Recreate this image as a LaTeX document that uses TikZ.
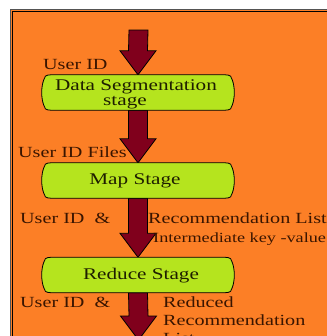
\documentclass[tikz,border=0pt]{standalone}
\usepackage{fontspec}
\setmainfont{Liberation Serif}[FakeStretch=1.3]
\usetikzlibrary{calc}

\definecolor{panel}{HTML}{FC7F26}
\definecolor{flowred}{HTML}{80001C}
\definecolor{stagegreen}{HTML}{B5E41E}
\definecolor{labelbrown}{HTML}{3A1500}
\definecolor{stageink}{HTML}{1E1E00}

% block arrow from the middle of a top edge (#1) down to a tip (#2)
\newcommand\flowarrow[2]{%
  \draw[flowline]
    ($(#1)+(-9.5,0)$) -- ($(#2)+(-9.5,-24)$) -- ($(#2)+(-18,-24)$) -- (#2)
    -- ($(#2)+(18,-24)$) -- ($(#2)+(9.5,-24)$) -- ($(#1)+(9.5,0)$) -- cycle;}

% rounded stage outline with slightly bulging sides
\newcommand\stageoutline[1]{%
  \draw[stageline] let \p1=(#1.north west), \p2=(#1.south east) in
    (\x1+8bp,\y1) -- (\x2-8bp,\y1)
    .. controls (\x2-3bp,\y1) and (\x2-1bp,\y1-2bp) .. (\x2-1bp,\y1-5bp)
    .. controls (\x2+1.8bp,\y1-12bp) and (\x2+1.8bp,\y2+12bp) .. (\x2-1bp,\y2+5bp)
    .. controls (\x2-1bp,\y2+2bp) and (\x2-3bp,\y2) .. (\x2-8bp,\y2)
    -- (\x1+8bp,\y2)
    .. controls (\x1+3bp,\y2) and (\x1+1bp,\y2+2bp) .. (\x1+1bp,\y2+5bp)
    .. controls (\x1-1.8bp,\y2+12bp) and (\x1-1.8bp,\y1-12bp) .. (\x1+1bp,\y1-5bp)
    .. controls (\x1+1bp,\y1-2bp) and (\x1+3bp,\y1) .. cycle;}

\tikzset{
  stagebox/.style={inner sep=0pt, minimum width=190bp, minimum height=35bp},
  stageline/.style={draw=black, line width=0.8bp, fill=stagegreen},
  flowline/.style={draw=black, line width=0.8bp, fill=flowred, line join=miter},
  stagetext/.style={inner sep=0pt, anchor=base, text=stageink,
    font=\fontsize{16.3bp}{13bp}\selectfont},
  flowlabel/.style={inner sep=0pt, anchor=base west, text=labelbrown,
    font=\fontsize{15.5bp}{18bp}\selectfont},
  smalllabel/.style={flowlabel, font=\fontsize{14bp}{16bp}\selectfont},
}

\begin{document}
\begin{tikzpicture}[x=1bp, y=-1bp]
\useasboundingbox (0,0) rectangle (327,336);

% orange panel with its grey frame
\fill[panel] (11,10) rectangle (345,350);
\draw[gray!65!black, line width=1.4bp] (10.7,350) -- (10.7,9.7) -- (345,9.7);
\draw[black, line width=0.6bp] (12.2,350) -- (12.2,11.2) -- (345,11.2);

% stages
\node[stagebox] (seg) at (138,92.5) {};
\node[stagebox] (map) at (138,180.5) {};
\node[stagebox] (red) at (138,275) {};
\coordinate (in) at (138.5,30);
\coordinate (out) at (138.5,340);

% connectors
\flowarrow{in}{seg.north}
\flowarrow{seg.south}{map.north}
\flowarrow{map.south}{red.north}
\flowarrow{red.south}{out}

\stageoutline{seg}
\stageoutline{map}
\stageoutline{red}

% stage names
\node[stagetext] (segA) at (136,90) {Data Segmentation};
\node[stagetext] (segB) at (125,105) {stage};
\node[stagetext] (mapA) at (135,184) {Map Stage};
\node[stagetext] (redA) at (141,279) {Reduce Stage};

% data labels
\node[flowlabel] (l1) at (43,69) {User ID};
\node[flowlabel] (l2) at (18,157) {User ID Files};
\node[flowlabel] (l3) at (20,223) {User ID\ \ \&};
\node[flowlabel] (l4) at (148,223) {Recommendation List};
\node[smalllabel] (l5) at (153,242) {Intermediate key -value};
\node[flowlabel] (l6) at (20,307) {User ID\ \ \&};
\node[flowlabel] (l7) at (163,307) {Reduced};
\node[flowlabel] (l8) at (163,325) {Recommendation};
\node[flowlabel] (l9) at (163,343) {List};
\end{tikzpicture}
\end{document}
